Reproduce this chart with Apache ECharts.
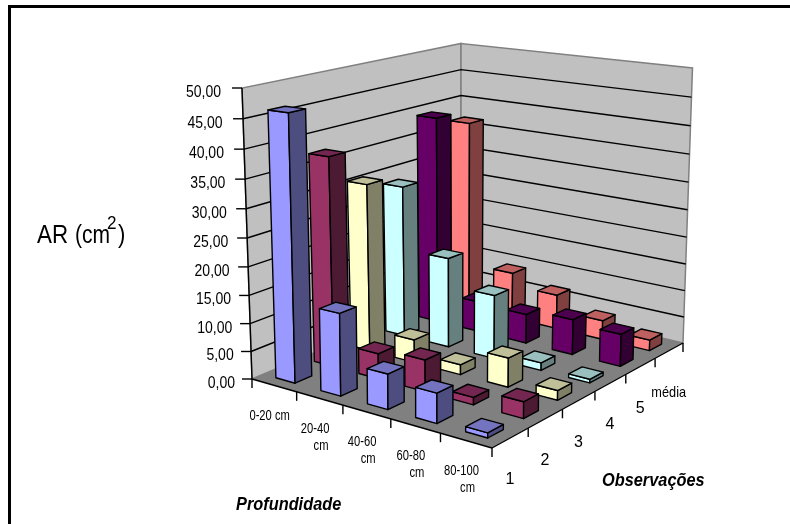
<!DOCTYPE html>
<html>
<head>
<meta charset="utf-8">
<style>html,body{margin:0;padding:0;background:#fff}#chart{width:790px;height:524px}</style>
<script src="https://cdn.jsdelivr.net/npm/echarts@6/dist/echarts.min.js"></script>
</head>
<body>
<div id="chart"></div>
<script>
// Root-area chart: six observation rows across five soil depth classes.
const depths = ['0-20 cm', '20-40 cm', '40-60 cm', '60-80 cm', '80-100 cm'];
const observations = ['1', '2', '3', '4', '5', 'média'];
const obs1 = [46.3, 14.4, 6.1, 5.1, 0.85];
const obs2 = [37.4, 4.55, 5.6, 1.3, 2.85];
const obs3 = [30.7, 4.2, 1.8, 5.2, 1.7];
const obs4 = [28.3, 16.7, 11.7, 1.4, 0.65];
const obs5 = [39.2, 5.8, 5.5, 6.55, 5.9];
const obsMean = [36.6, 8.95, 6.55, 3.6, 2.0];
const yTicks = [0, 5, 10, 15, 20, 25, 30, 35, 40, 45, 50];
const yMax = 50;
const rows = [obs1, obs2, obs3, obs4, obs5, obsMean];
const faces = [
  ['#9999FF', '#7373BF', '#4D4D80'],
  ['#993366', '#732650', '#4D1A33'],
  ['#FFFFCC', '#BFBF99', '#808066'],
  ['#CCFFFF', '#99BFBF', '#668080'],
  ['#660066', '#4D004D', '#330033'],
  ['#FF8080', '#BF6060', '#804040']
];

// Picture-plane corners of the floor and of the ceiling of the plot box.
const floorQuad = [[252, 379], [492, 448], [683, 343], [461, 291]];
const roofQuad = [[242, 88], [493, 118], [692.5, 68], [461, 43.5]];
const gridBox = { left: 252, top: 88, width: 240, height: 291 };
const barU = 0.43, barV = 0.43;
// Foreshortening of the vertical axis: equal value steps grow towards the top.
const riseBend = 0.064;

// Unit square to quadrilateral homography.
function homography(q) {
  const [[x0, y0], [x1, y1], [x2, y2], [x3, y3]] = q;
  const dx1 = x1 - x2, dx2 = x3 - x2, sx = x0 - x1 + x2 - x3;
  const dy1 = y1 - y2, dy2 = y3 - y2, sy = y0 - y1 + y2 - y3;
  const det = dx1 * dy2 - dx2 * dy1;
  const g = (sx * dy2 - dx2 * sy) / det, h = (dx1 * sy - sx * dy1) / det;
  const a = x1 - x0 + g * x1, b = x3 - x0 + h * x3;
  const d = y1 - y0 + g * y1, e = y3 - y0 + h * y3;
  return (u, v) => {
    const w = g * u + h * v + 1;
    return [(a * u + b * v + x0) / w, (d * u + e * v + y0) / w];
  };
}
const onFloor = homography(floorQuad);
const onRoof = homography(roofQuad);
// u runs along the depth axis, v along the observation axis, w is the height fraction.
function project(u, v, w) {
  const p = onFloor(u, v), q = onRoof(u, v);
  return [p[0] + (q[0] - p[0]) * w, p[1] + (q[1] - p[1]) * w];
}
const heightOf = (api, val) => {
  const w = (gridBox.top + gridBox.height - api.coord([0, val])[1]) / gridBox.height;
  return w / (1 + riseBend * (1 - w));
};

const black = { stroke: '#000', fill: 'none', lineWidth: 1.4 };
const poly = (pts, style) => ({ type: 'polygon', shape: { points: pts }, style });
const line = (a, b, style) => ({ type: 'polyline', shape: { points: [a, b] }, style });
const label = (text, x, y, size, align, sx) => ({
  type: 'text', x, y, scaleX: sx,
  style: { text, x: 0, y: 0, align, verticalAlign: 'middle', fill: '#000',
    font: size + 'px "Liberation Sans", Arial, sans-serif' }
});

// Walls, floor, gridlines and the tick marks of the three axes.
function drawBox(params, api) {
  const L0 = project(0, 0, 0), F0 = project(1, 0, 0), R0 = project(1, 1, 0), B0 = project(0, 1, 0);
  const L1 = project(0, 0, 1), R1 = project(1, 1, 1), B1 = project(0, 1, 1);
  const wall = { fill: '#C0C0C0', stroke: '#808080', lineWidth: 1.5 };
  const kids = [
    poly([L0, B0, B1, L1], wall),
    poly([B0, R0, R1, B1], wall),
    poly([L0, F0, R0, B0], { fill: '#808080' })
  ];
  yTicks.forEach(t => {
    const w = heightOf(api, t);
    const a = project(0, 0, w), b = project(0, 1, w), c = project(1, 1, w);
    if (t > 0 && t < yMax) {
      kids.push({ type: 'polyline', shape: { points: [a, b, c] }, style: black });
    }
    kids.push(line([a[0] - 10, a[1]], a, black));
  });
  kids.push(line(L0, L1, black), line(L0, F0, black), line(F0, R0, black));
  depths.forEach((d, i) => {
    const p = project((i + 1) / depths.length, 0, 0);
    kids.push(line(p, [p[0], p[1] + 9], black));
  });
  kids.push(line(L0, [L0[0], L0[1] + 9], black));
  observations.forEach((o, j) => {
    const p = project(1, (j + 1) / observations.length, 0);
    kids.push(line(p, [p[0], p[1] + 9], black));
  });
  return { type: 'group', children: kids };
}

// Tick and category labels placed beside their axes.
function drawLabels(params, api) {
  const kids = [];
  yTicks.forEach(t => {
    const w = heightOf(api, t);
    const a = project(0, 0, w);
    kids.push(label(t.toFixed(2).replace('.', ','), a[0] - 17 - 4 * w, a[1] + 4.5, 16, 'right', 0.875));
  });
  depths.forEach((d, i) => {
    const p = project((i + 0.5) / depths.length, 0, 0);
    if (i === 0) {
      kids.push(label(d, p[0] - 4.5, p[1] + 30.5, 14, 'center', 0.8));
    } else {
      const parts = d.split(' ');
      kids.push(label(parts[0], p[0] - 4.5, p[1] + 30.5, 14, 'center', 0.8));
      kids.push(label(parts[1], p[0] + 1.5, p[1] + 47.5, 14, 'center', 0.8));
    }
  });
  observations.forEach((o, j) => {
    const p = project(1, (j + 0.5) / observations.length, 0);
    kids.push(label(o, p[0] - 0.5, p[1] + 42, j === 5 ? 15 : 16, 'center', j === 5 ? 0.85 : 1));
  });
  return { type: 'group', children: kids };
}

// One square prism per depth class in an observation row.
function drawBar(rowIndex) {
  return function (params, api) {
    const i = api.value(0), val = api.value(1);
    const cx = api.coord([i, 0])[0];
    const uc = (cx - gridBox.left) / gridBox.width;
    const vc = (rowIndex + 0.5) / observations.length;
    const du = barU / depths.length / 2, dv = barV / observations.length / 2;
    const w = heightOf(api, val);
    const u0 = uc - du, u1 = uc + du, v0 = vc - dv, v1 = vc + dv;
    const a = project(u0, v0, 0), b = project(u1, v0, 0), c = project(u1, v1, 0);
    const at = project(u0, v0, w), bt = project(u1, v0, w), ct = project(u1, v1, w), dt = project(u0, v1, w);
    const f = faces[rowIndex];
    const edge = { stroke: '#000', lineWidth: 1.4, lineJoin: 'round' };
    return { type: 'group', children: [
      poly([a, b, bt, at], Object.assign({ fill: f[0] }, edge)),
      poly([b, c, ct, bt], Object.assign({ fill: f[2] }, edge)),
      poly([at, bt, ct, dt], Object.assign({ fill: f[1] }, edge))
    ] };
  };
}

const barSeries = rows.map((row, j) => ({
  type: 'custom', name: observations[j], coordinateSystem: 'cartesian2d',
  clip: false, silent: true, animation: false,
  renderItem: drawBar(j),
  encode: { x: 0, y: 1 },
  data: row.map((val, i) => [i, val])
})).reverse();

const one = (fn) => ({
  type: 'custom', coordinateSystem: 'cartesian2d', clip: false, silent: true, animation: false,
  renderItem: fn, encode: { x: 0, y: 1 }, data: [[0, 0]]
});

const titleFont = '"Liberation Sans", Arial, sans-serif';
const caption = (text, x, y, sx, font) => ({
  type: 'text', x, y, scaleX: sx, silent: true,
  style: { text, x: 0, y: 0, align: 'left', verticalAlign: 'middle', fill: '#000', font: font + ' ' + titleFont }
});
const chart = echarts.init(document.getElementById('chart'), null, { renderer: 'canvas' });
chart.setOption({
  backgroundColor: '#fff',
  animation: false,
  grid: Object.assign({ containLabel: false }, gridBox),
  xAxis: { type: 'category', data: depths, show: false },
  yAxis: { type: 'value', min: 0, max: yMax, interval: 5, show: false },
  graphic: [
    { type: 'rect', silent: true, shape: { x: 9.5, y: 6.5, width: 800, height: 540 }, style: { fill: 'none', stroke: '#000', lineWidth: 3 } },
    caption('AR', 37, 236, 0.86, '26px'),
    caption('(cm', 75, 236, 0.81, '26px'),
    caption('2', 107, 224, 0.95, '18px'),
    caption(')', 118, 236, 0.85, '26px'),
    caption('Profundidade', 236, 505, 0.86, 'italic bold 19px'),
    caption('Observações', 602, 481, 0.86, 'italic bold 19px')
  ],
  series: [one(drawBox)].concat(barSeries, [one(drawLabels)])
});
</script>
</body>
</html>
